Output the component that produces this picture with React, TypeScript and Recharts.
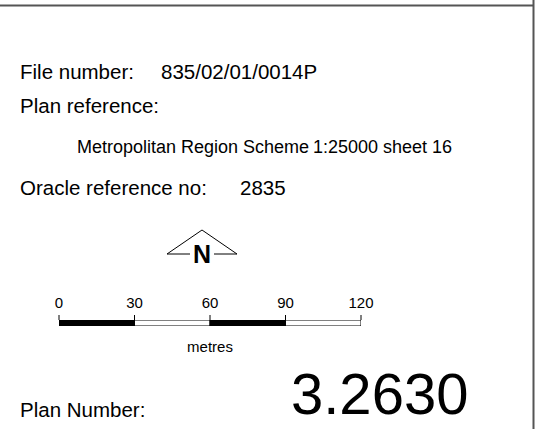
import React from 'react';
import { BarChart, Bar, XAxis, YAxis, Customized } from 'recharts';

const scaleTicks = [0, 30, 60, 90, 120];
const segmentLengths = [30, 30, 30, 30];
const segmentFills = ['#000000', '#ffffff', '#000000', '#ffffff'];
const segmentKeys = segmentLengths.map((_, i) => `s${i + 1}`);
const scaleUnit = 'metres';

const fileNumberLabel = 'File number:';
const fileNumberValue = '835/02/01/0014P';
const planRefLabel = 'Plan reference:';
const planRefScheme = 'Metropolitan Region Scheme';
const planRefSheet = '1:25000 sheet 16';
const oracleLabel = 'Oracle reference no:';
const oracleValue = '2835';
const planNumberLabel = 'Plan Number:';
const planNumberValue = '3.2630';

const scaleRow: Record<string, string | number>[] = [
  segmentLengths.reduce<Record<string, string | number>>(
    (acc, v, i) => {
      acc[segmentKeys[i]] = v;
      return acc;
    },
    { name: 'scale' }
  ),
];

const FONT = '"Liberation Sans", Arial, sans-serif';

const makeSegmentShape = (fill: string) => (props: any) => {
  const { x, y, width, height } = props;
  const isWhite = fill === '#ffffff';
  return (
    <g>
      <rect x={x} y={y} width={width} height={height} fill={fill} />
      {isWhite && (
        <>
          <line x1={x} x2={x + width} y1={y + 0.5} y2={y + 0.5} stroke="#808080" strokeWidth={1} />
          <line x1={x} x2={x + width} y1={y + height - 0.5} y2={y + height - 0.5} stroke="#808080" strokeWidth={1} />
        </>
      )}
      <line x1={x} x2={x} y1={y} y2={y + height} stroke="#000" strokeWidth={1} />
      <line x1={x + width} x2={x + width} y1={y} y2={y + height} stroke="#000" strokeWidth={1} />
    </g>
  );
};

const Decorations = () => (
  <g fontFamily={FONT} fill="#000">
    <line x1={0} x2={533.5} y1={5.5} y2={5.5} stroke="#555" strokeWidth={2} />
    <line x1={533.5} x2={533.5} y1={0} y2={429} stroke="#555" strokeWidth={2} />

    <text x={20} y={79} fontSize={20.5}>{fileNumberLabel}</text>
    <text x={161} y={79} fontSize={20.5}>{fileNumberValue}</text>
    <text x={20} y={113} fontSize={20.5}>{planRefLabel}</text>
    <text x={77} y={153} fontSize={18}>{planRefScheme}</text>
    <text x={313} y={153} fontSize={18}>{planRefSheet}</text>
    <text x={20} y={195} fontSize={20.5}>{oracleLabel}</text>
    <text x={240} y={195} fontSize={20.5}>{oracleValue}</text>

    <polyline points="167,254 202,230 237,254" fill="none" stroke="#000" strokeWidth={1} />
    <line x1={167} x2={190} y1={254} y2={254} stroke="#000" strokeWidth={1} />
    <line x1={214} x2={237} y1={254} y2={254} stroke="#000" strokeWidth={1} />
    <text x={202} y={263} fontSize={25} fontWeight="bold" textAnchor="middle">N</text>

    <text x={210} y={352} fontSize={15} textAnchor="middle">{scaleUnit}</text>

    <text x={20} y={417} fontSize={20.5}>{planNumberLabel}</text>
    <text x={291} y={414} fontSize={58}>{planNumberValue}</text>
  </g>
);

export default function App() {
  return (
    <div style={{ position: 'absolute', left: 0, top: 0, width: 540, height: 429, background: '#fff' }}>
      <BarChart
        width={540}
        height={429}
        data={scaleRow}
        layout="vertical"
        margin={{ top: 290, right: 179, bottom: 103, left: 59 }}
        barCategoryGap={0}
        style={{ background: '#fff' }}
      >
        <XAxis
          type="number"
          orientation="top"
          domain={[0, 120]}
          ticks={scaleTicks}
          axisLine={false}
          tickSize={5}
          tickMargin={7}
          height={30}
          tickLine={{ stroke: '#000' }}
          tick={{ fontSize: 15, fill: '#000', fontFamily: FONT }}
          interval={0}
          allowDataOverflow
        />
        <YAxis type="category" dataKey="name" hide />
        {segmentKeys.map((k, i) => (
          <Bar
            key={k}
            dataKey={k}
            stackId="scale"
            fill={segmentFills[i]}
            shape={makeSegmentShape(segmentFills[i])}
            isAnimationActive={false}
          />
        ))}
        <Customized component={Decorations} />
      </BarChart>
    </div>
  );
}
